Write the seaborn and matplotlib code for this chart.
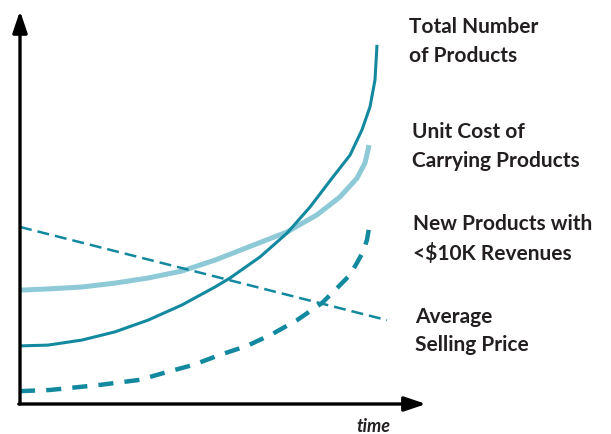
import matplotlib
matplotlib.use("Agg")
import matplotlib.pyplot as plt
import seaborn as sns

# ---- data (time 0..100, value 0..100) ----
total_x = [0, 7, 15.5, 23.75, 32, 40.5, 48.75, 52.5, 60, 66.75, 72.5, 78, 82.5,
           85.5, 87.5, 88.75, 89.25]
total_y = [14.9, 15.1, 16.4, 18.5, 21.5, 25.4, 30.0, 32.3, 37.7, 43.8, 50.5, 57.9,
           63.8, 70.3, 76.2, 83.1, 92.1]

unit_x = [0, 7, 15.5, 23.75, 32, 40.5, 48.75, 53.25, 61.75, 66.75, 74.25, 80,
          84.25, 86.25, 87, 87.25]
unit_y = [29.2, 29.5, 30.0, 31.0, 32.3, 34.1, 36.9, 38.7, 42.1, 44.1, 48.5, 53.1,
          57.9, 61.8, 65.1, 66.4]

new_x = [0, 7.5, 20, 30, 36.75, 43.25, 50, 56.75, 63, 69.25, 75.5, 79.25, 82.5,
         84.25, 85.75, 86.75, 87.25]
new_y = [3.3, 3.6, 4.9, 6.2, 8.2, 10.0, 12.6, 14.9, 17.9, 21.5, 25.9, 29.7, 33.1,
         36.2, 39.0, 42.1, 45.1]

price_x = [0, 91.75]
price_y = [45.4, 21.5]

label_lines = [
    ["Total Number", "of Products"],
    ["Unit Cost of", "Carrying Products"],
    ["New Products with", "<$10K Revenues"],
    ["Average", "Selling Price"],
]
xlabel = "time"

DARK = "#13899f"
LIGHT = "#8dc9d6"

sns.set_style("white")
plt.rcParams["font.family"] = ["Lato", "DejaVu Sans"]

fig = plt.figure(figsize=(6.11, 4.34), dpi=100)
W, H = 611, 434
ax = fig.add_axes([20 / W, 30 / H, 400 / W, 390 / H])
ax.set_xlim(0, 100)
ax.set_ylim(0, 100)
ax.axis("off")

sns.lineplot(x=unit_x, y=unit_y, ax=ax, color=LIGHT, lw=3.6,
             solid_capstyle="butt", solid_joinstyle="round")
sns.lineplot(x=total_x, y=total_y, ax=ax, color=DARK, lw=2.2,
             solid_capstyle="butt", solid_joinstyle="round")
sns.lineplot(x=price_x, y=price_y, ax=ax, color=DARK, lw=1.8,
             linestyle=(0, (4.8, 2.4)))
sns.lineplot(x=new_x, y=new_y, ax=ax, color=DARK, lw=3.2,
             linestyle=(0, (3.4, 2.5)))

# axes with arrowheads
arrow_kw = dict(arrowstyle="-|>,head_length=0.65,head_width=0.22",
                lw=2.4, color="black", shrinkA=0, shrinkB=0, mutation_scale=20)
ax.annotate("", xy=(0, 100.8), xytext=(0, 0), xycoords="data",
            arrowprops=arrow_kw, annotation_clip=False)
ax.annotate("", xy=(101.5, 0), xytext=(-0.3, 0), xycoords="data",
            arrowprops=arrow_kw, annotation_clip=False)

# labels (figure pixel positions: left x, baselines)
label_pos = [(409, 33, 62), (412, 138, 167), (413, 230, 260), (415, 323, 351)]
TXT = "#231f20"
for (lx, b1, b2), lines in zip(label_pos, label_lines):
    fig.text(lx / W, 1 - b1 / H, lines[0], fontsize=15, fontweight="bold",
             color=TXT, va="baseline", ha="left")
    fig.text(lx / W, 1 - b2 / H, lines[1], fontsize=15, fontweight="bold",
             color=TXT, va="baseline", ha="left")
fig.text(356 / W, 1 - 432 / H, xlabel, fontsize=13, fontweight="bold",
         fontstyle="italic", color=TXT, va="baseline", ha="left")

fig.savefig("out.png", dpi=100)
